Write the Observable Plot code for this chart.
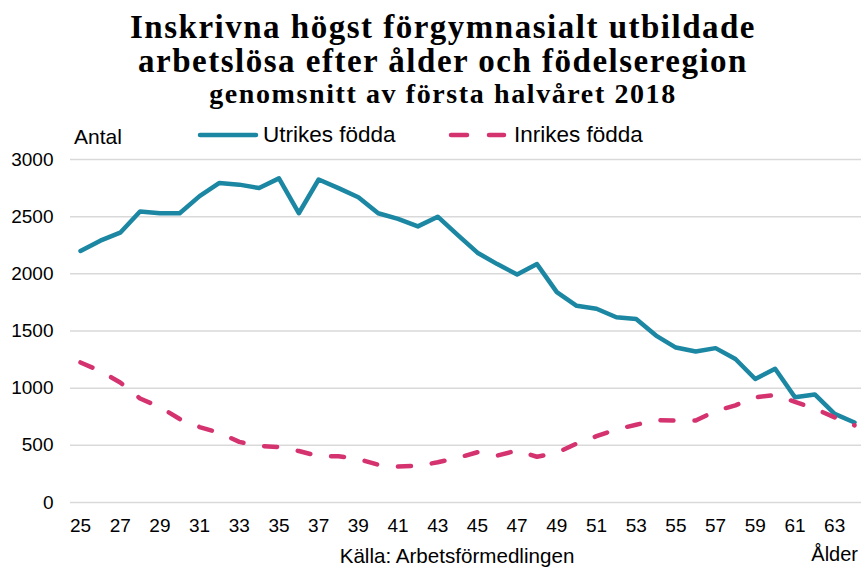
<!DOCTYPE html>
<html><head><meta charset="utf-8">
<script src="https://cdn.jsdelivr.net/npm/d3@7"></script>
<script src="https://cdn.jsdelivr.net/npm/@observablehq/plot@0.6"></script>
<style>
body{margin:0;background:#fff;}
#wrap{position:relative;width:861px;height:569px;overflow:hidden;background:#fff;}
#chart{position:absolute;left:0;top:0;}
#overlay{position:absolute;left:0;top:0;pointer-events:none;}
.t{font-family:"Liberation Serif","Times New Roman",serif;font-weight:bold;fill:#000;}
.s{font-family:"Liberation Sans",Arial,sans-serif;fill:#000;}
</style></head>
<body><div id="wrap"><div id="chart"></div>
<svg id="overlay" width="861" height="569">
  <text class="t" x="443" y="38" text-anchor="middle" font-size="33" letter-spacing="1.5">Inskrivna högst förgymnasialt utbildade</text>
  <text class="t" x="443" y="72" text-anchor="middle" font-size="33" letter-spacing="1.5">arbetslösa efter ålder och födelseregion</text>
  <text class="t" x="443" y="103" text-anchor="middle" font-size="28" letter-spacing="1.6">genomsnitt av första halvåret 2018</text>
  <text class="s" x="74" y="144" font-size="21">Antal</text>
  <line x1="200" x2="256" y1="135" y2="135" stroke="#1b87a3" stroke-width="4.5" stroke-linecap="round"/>
  <text class="s" x="263" y="142" font-size="22.5">Utrikes födda</text>
  <line x1="451" x2="467" y1="135" y2="135" stroke="#d5336f" stroke-width="4.5" stroke-linecap="round"/>
  <line x1="489" x2="504" y1="135" y2="135" stroke="#d5336f" stroke-width="4.5" stroke-linecap="round"/>
  <text class="s" x="514" y="142" font-size="22.5">Inrikes födda</text>
  <text class="s" x="457" y="563" text-anchor="middle" font-size="20.6">Källa: Arbetsförmedlingen</text>
  <text class="s" x="858" y="561" text-anchor="end" font-size="20">Ålder</text>
</svg></div>
<script>
const ages = [25,26,27,28,29,30,31,32,33,34,35,36,37,38,39,40,41,42,43,44,45,46,47,48,49,50,51,52,53,54,55,56,57,58,59,60,61,62,63,64];
const utrikes = [2200,2290,2360,2545,2530,2530,2680,2795,2780,2750,2835,2530,2825,2750,2670,2530,2480,2415,2500,2340,2185,2085,1995,2085,1840,1720,1695,1620,1605,1460,1355,1320,1350,1255,1080,1170,920,945,775,700];
const inrikes = [1225,1150,1050,910,835,730,660,610,530,495,485,450,405,405,380,330,315,320,352,390,440,410,455,400,435,515,580,640,680,720,717,717,800,850,920,940,880,820,745,675];
const xTicks = [25,27,29,31,33,35,37,39,41,43,45,47,49,51,53,55,57,59,61,63];
const yTicks = [0,500,1000,1500,2000,2500,3000];
const teal = "#1b87a3", pink = "#d5336f";

const data = ages.map((a, i) => ({age: a, u: utrikes[i], n: inrikes[i]}));

const chart = Plot.plot({
  width: 861, height: 569,
  marginLeft: 80, marginRight: 7, marginTop: 159, marginBottom: 67,
  style: {fontFamily: "'Liberation Sans', Arial, sans-serif", fontSize: "19px", color: "#000", background: "transparent"},
  x: {domain: [25, 64], ticks: xTicks, tickSize: 0, tickPadding: 16, tickFormat: d => String(d), label: null},
  y: {domain: [0, 3000], ticks: yTicks, tickSize: 0, tickPadding: 27, tickFormat: d => String(d), label: null},
  marks: [
    Plot.ruleY(yTicks, {stroke: "#d9d9d9", strokeWidth: 1.5, insetLeft: -10, insetRight: -7}),
    Plot.line(data, {x: "age", y: "u", stroke: teal, strokeWidth: 4.5}),
    Plot.line(data, {x: "age", y: "n", stroke: pink, strokeWidth: 4.5, strokeDasharray: "13,21", strokeLinecap: "round"})
  ]
});
document.getElementById("chart").appendChild(chart);
</script>
</body></html>
